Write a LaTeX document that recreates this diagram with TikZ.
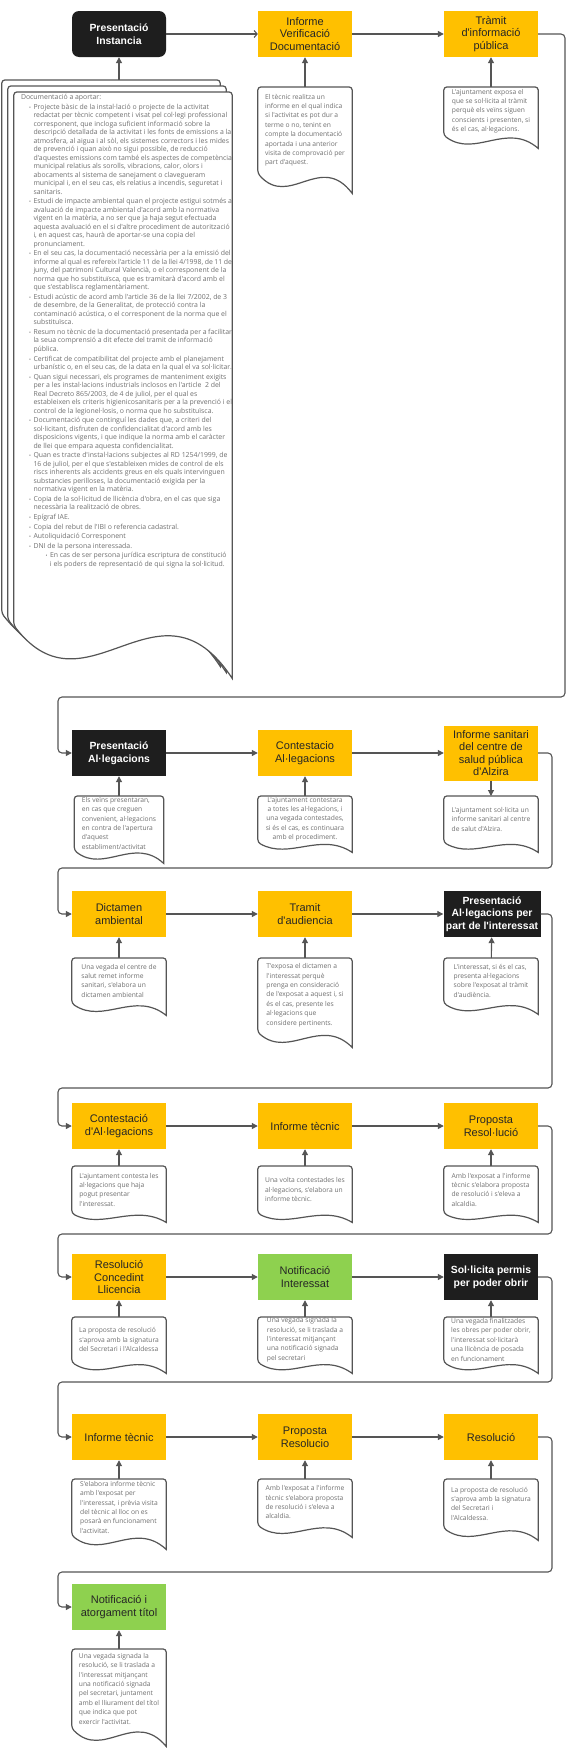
\documentclass[tikz,border=0pt]{standalone}
\usepackage{fontspec}
\newfontfamily\boxfont{Liberation Sans}[Ligatures=TeXOff]
\newfontfamily\docfont{Open Sans}[Ligatures=TeXOff]
\usetikzlibrary{arrows.meta, positioning, calc, backgrounds}
\definecolor{boxyellow}{HTML}{FFC000}
\definecolor{boxgreen}{HTML}{8ED14F}
\definecolor{boxblack}{HTML}{1E1E1E}
\definecolor{linegray}{HTML}{555555}
\definecolor{docgray}{HTML}{707070}
\tikzstyle{ybox} = [rectangle, fill=boxyellow, text=black!85, minimum width=94pt, minimum height=46pt, inner sep=1pt, align=center, font=\boxfont\fontsize{11}{12.6}\selectfont]
\tikzstyle{gbox} = [ybox, fill=boxgreen]
\tikzstyle{kbox} = [ybox, fill=boxblack, text=white, font=\boxfont\bfseries\fontsize{10.4}{12.6}\selectfont]
\tikzstyle{doc} = [rectangle, anchor=north, inner sep=0pt, minimum width=94pt, align=left, text=docgray, font=\docfont\fontsize{6.7}{9.4}\selectfont]
\tikzstyle{docpage} = [rectangle, anchor=north, inner sep=0pt, minimum width=218pt, minimum height=533pt]
\tikzstyle{docline} = [draw=linegray, line width=1.2pt, line join=miter]
\tikzstyle{line} = [draw=linegray, line width=1.1pt, rounded corners=4pt]
\tikzstyle{arrow} = [line, -{Triangle[length=6pt, width=6pt]}]
\tikzstyle{openarrow} = [line, -{Straight Barb[length=3pt, width=7pt]}]
\newcommand{\docwave}[3][]{%
	\path [docline, #1] ($(#2.south east)+(0,-#3)$) [rounded corners=3pt] -- (#2.north east) -- (#2.north west) -- (#2.south west) [sharp corners]
		.. controls ($(#2.south west)!0.333!(#2.south east)+(0,-1.78*#3)$) and ($(#2.south west)!0.667!(#2.south east)+(0,1.1*#3)$) .. ($(#2.south east)+(0,-#3)$) -- cycle;
}
\newcommand{\bitem}{\hangindent=12.5pt\hangafter=0\leavevmode\llap{{\fontsize{5}{5}\selectfont •}\hspace{2.5pt}}}
\newcommand{\bsub}{\hangindent=29pt\hangafter=0\leavevmode\llap{{\fontsize{5}{5}\selectfont •}\hspace{2.5pt}}}

\begin{document}
\begin{tikzpicture}[x=1pt, y=1pt]
			\useasboundingbox (0,0) rectangle (572,-1748);

			\node [kbox, rounded corners=7pt] (b11) at (119,-34) {Presentació\\Instancia};
			\node [ybox] (b12) at (305,-34) {Informe\\Verificació\\Documentació};
			\node [ybox] (b13) at (491,-34) {Tràmit\\d'informació\\pública};
			\node [kbox] (b21) at (119,-753) {Presentació\\Al·legacions};
			\node [ybox] (b22) at (305,-753) {Contestacio\\Al·legacions};
			\node [ybox, minimum height=55pt] (b23) at (491,-753) {Informe sanitari\\del centre de\\salud pública\\d'Alzira};
			\node [ybox] (b31) at (119,-914) {Dictamen\\ambiental};
			\node [ybox] (b32) at (305,-914) {Tramit\\d'audiencia};
			\node [kbox, minimum width=97pt] (b33) at (492,-914) {Presentació\\Al·legacions per\\part de l'interessat};
			\node [ybox] (b41) at (119,-1126) {Contestació\\d'Al·legacions};
			\node [ybox] (b42) at (305,-1126) {Informe tècnic};
			\node [ybox] (b43) at (491,-1126) {Proposta\\Resol·lució};
			\node [ybox] (b51) at (119,-1277) {Resolució\\Concedint\\Llicencia};
			\node [gbox] (b52) at (305,-1277) {Notificació\\Interessat};
			\node [kbox] (b53) at (491,-1277) {Sol·licita permis\\per poder obrir};
			\node [ybox] (b61) at (119,-1437) {Informe tècnic};
			\node [ybox] (b62) at (305,-1437) {Proposta\\Resolucio};
			\node [ybox] (b63) at (491,-1437) {Resolució};
			\node [gbox] (b71) at (119,-1607) {Notificació i\\atorgament títol};

			\node [docpage] (d11c) at (111,-80) {};
			\node [docpage] (d11b) at (117,-86) {};
			\node [docpage, text=docgray, font=\docfont\fontsize{6.9}{8.5}\selectfont] (d11) at (123,-92) {\begin{minipage}[t][533pt][t]{218pt}
				\setlength{\parindent}{0pt}\setlength{\parskip}{1.1pt}\setlength{\leftskip}{7pt}
				\vspace*{2pt}
				Documentació a aportar:\par
				\bitem Projecte bàsic de la instal·lació o projecte de la activitat\\redactat per tècnic competent i visat pel col·legi professional\\corresponent, que incloga suficient informació sobre la\\descripció detallada de la activitat i les fonts de emissions a la\\atmosfera, al aigua i al sòl, els sistemes correctors i les mides\\de prevenció i quan això no sigui possible, de reducció\\d'aquestes emissions com també els aspectes de competència\\municipal relatius als sorolls, vibracions, calor, olors i\\abocaments al sistema de sanejament o clavegueram\\municipal i, en el seu cas, els relatius a incendis, seguretat i\\sanitaris.\par
				\bitem Estudi de impacte ambiental quan el projecte estigui sotmés a\\avaluació de impacte ambiental d'acord amb la normativa\\vigent en la matèria, a no ser que ja haja segut efectuada\\aquesta avaluació en el si d'altre procediment de autorització\\i, en aquest cas, haurà de aportar-se una copia del\\pronunciament.\par
				\bitem En el seu cas, la documentació necessària per a la emissió del\\informe al qual es refereix l'article 11 de la llei 4/1998, de 11 de\\juny, del patrimoni Cultural Valencià, o el corresponent de la\\norma que ho substituïsca, que es tramitarà d'acord amb el\\que s'establisca reglamentàriament.\par
				\bitem Estudi acústic de acord amb l'article 36 de la llei 7/2002, de 3\\de desembre, de la Generalitat, de protecció contra la\\contaminació acústica, o el corresponent de la norma que el\\substituïsca.\par
				\bitem Resum no tècnic de la documentació presentada per a facilitar\\la seua comprensió a dit efecte del tramit de informació\\pública.\par
				\bitem Certificat de compatibilitat del projecte amb el planejament\\urbanístic o, en el seu cas, de la data en la qual el va sol·licitar.\par
				\bitem Quan sigui necessari, els programes de manteniment exigits\\per a les instal·lacions industrials inclosos en l'article\ \ 2 del\\Real Decreto 865/2003, de 4 de juliol, per el qual es\\estableixen els criteris higienicosanitaris per a la prevenció i el\\control de la legionel·losis, o norma que ho substituïsca.\par
				\bitem Documentació que continguí les dades que, a criteri del\\sol·licitant, disfruten de confidencialitat d'acord amb les\\disposicions vigents, i que indique la norma amb el caràcter\\de llei que empara aquesta confidencialitat.\par
				\bitem Quan es tracte d'instal·lacions subjectes al RD 1254/1999, de\\16 de juliol, per el que s'estableixen mides de control de els\\riscs inherents als accidents greus en els quals intervinguen\\substancies perilloses, la documentació exigida per la\\normativa vigent en la matèria.\par
				\bitem Copia de la sol·licitud de llicència d'obra, en el cas que siga\\necessària la realització de obres.\par
				\bitem Epígraf IAE.\par
				\bitem Copia del rebut de l'IBI o referencia cadastral.\par
				\bitem Autoliquidació Corresponent\par
				\bitem DNI de la persona interessada.\par
				\bsub En cas de ser persona jurídica escriptura de constitució\\i els poders de representació de qui signa la sol·licitud.\par
			\end{minipage}};
			\node [doc, minimum height=86pt] (d12) at (305,-87) {El tècnic realitza un\\informe en el qual indica\\si l'activitat es pot dur a\\terme o no, tenint en\\compte la documentació\\aportada i una anterior\\visita de comprovació per\\part d'aquest.};
			\node [doc, minimum height=48pt] (d13) at (491,-87) {L'ajuntament exposa el\\que se sol·licita al tràmit\\perquè els veïns siguen\\conscients i presenten, si\\és el cas, al·legacions.};
			\node [doc, minimum width=89pt, minimum height=54pt] (d21) at (119,-796) {Els veïns presentaran,\\en cas que creguen\\convenient, al·legacions\\en contra de l'apertura\\d'aquest\\establiment/activitat};
			\node [doc, align=center, minimum height=46pt] (d22) at (305,-796) {L'ajuntament contestara\\a totes les al·legacions, i\\una vegada contestades,\\si és el cas, es continuara\\amb el procediment.};
			\node [doc, minimum height=46pt] (d23) at (491,-796) {L'ajuntament sol·licita un\\informe sanitari al centre\\de salut d'Alzira.};
			\node [doc, minimum height=45pt] (d31) at (119,-958) {Una vegada el centre de\\salut remet informe\\sanitari, s'elabora un\\dictamen ambiental};
			\node [doc, minimum height=74pt] (d32) at (305,-958) {T'exposa el dictamen a\\l'interessat perquè\\prenga en consideració\\de l'exposat a aquest i, si\\és el cas, presente les\\al·legacions que\\considere pertinents.};
			\node [doc, minimum height=45pt] (d33) at (491,-958) {L'interessat, si és el cas,\\presenta al·legacions\\sobre l'exposat al tràmit\\d'audiència.};
			\node [doc, minimum height=47pt] (d41) at (119,-1166) {L'ajuntament contesta les\\al·legacions que haja\\pogut presentar\\l'interessat.};
			\node [doc, minimum height=47pt] (d42) at (305,-1166) {Una volta contestades les\\al·legacions, s'elabora un\\informe tècnic.};
			\node [doc, minimum height=47pt] (d43) at (491,-1166) {Amb l'exposat a l'informe\\tècnic s'elabora proposta\\de resolució i s'eleva a\\alcaldia.};
			\node [doc, minimum height=45pt] (d51) at (119,-1317) {La proposta de resolució\\s'aprova amb la signatura\\del Secretari i l'Alcaldessa};
			\node [doc, minimum height=45pt] (d52) at (305,-1317) {Una vegada signada la\\resolució, se li traslada a\\l'interessat mitjançant\\una notificació signada\\pel secretari};
			\node [doc, minimum height=45pt] (d53) at (491,-1317) {Una vegada finalitzades\\les obres per poder obrir,\\l'interessat sol·licitarà\\una llicència de posada\\en funcionament};
			\node [doc, minimum height=56pt] (d61) at (119,-1479) {S'elabora informe tècnic\\amb l'exposat per\\l'interessat, i prèvia visita\\del tècnic al lloc on es\\posarà en funcionament\\l'activitat.};
			\node [doc, minimum height=46pt] (d62) at (305,-1479) {Amb l'exposat a l'informe\\tècnic s'elabora proposta\\de resolució i s'eleva a\\alcaldia.};
			\node [doc, minimum height=49pt] (d63) at (491,-1479) {La proposta de resolució\\s'aprova amb la signatura\\del Secretari i\\l'Alcaldessa.};
			\node [doc, minimum height=79pt] (d71) at (119,-1649) {Una vegada signada la\\resolució, se li traslada a\\l'interessat mitjançant\\una notificació signada\\pel secretari, juntament\\amb el lliurament del títol\\que indica que pot\\exercir l'activitat.};

			\begin{pgfonlayer}{background}
				\fill [white] (0,0) rectangle (572,-1748);
				\docwave[fill=white]{d11c}{53}
				\docwave[fill=white]{d11b}{53}
				\docwave[fill=white]{d11}{53}
				\docwave{d12}{20}
				\docwave{d13}{13}
				\docwave{d21}{13}
				\docwave{d22}{10}
				\docwave{d23}{10}
				\docwave{d31}{12}
				\docwave{d32}{15}
				\docwave{d33}{11}
				\docwave{d41}{9}
				\docwave{d42}{9}
				\docwave{d43}{9}
				\docwave{d51}{11}
				\docwave{d52}{11}
				\docwave{d53}{11}
				\docwave{d61}{14}
				\docwave{d62}{12}
				\docwave{d63}{12}
				\docwave{d71}{18}
			\end{pgfonlayer}

			\path [openarrow] (b11) -- (b12);
			\path [arrow] (b12) -- (b13);
			\path [arrow] (b13.east) -| (565,-697) -- (58,-697) |- (b21.west);
			\path [arrow] (b21) -- (b22);
			\path [arrow] (b22) -- (b23);
			\path [arrow] (b23.east) -| (552,-868) -- (58,-868) |- (b31.west);
			\path [arrow] (b31) -- (b32);
			\path [arrow] (b32) -- (b33);
			\path [arrow] (b33.east) -| (552,-1088) -- (58,-1088) |- (b41.west);
			\path [arrow] (b41) -- (b42);
			\path [arrow] (b42) -- (b43);
			\path [arrow] (b43.east) -| (552,-1234) -- (58,-1234) |- (b51.west);
			\path [arrow] (b51) -- (b52);
			\path [arrow] (b52) -- (b53);
			\path [arrow] (b53.east) -| (552,-1382) -- (58,-1382) |- (b61.west);
			\path [arrow] (b61) -- (b62);
			\path [arrow] (b62) -- (b63);
			\path [arrow] (b63.east) -| (552,-1572) -- (58,-1572) |- (b71.west);

			\path [arrow] (b11 |- d11c.north) -- (b11);
			\path [arrow] (d12) -- (b12);
			\path [arrow] (d13) -- (b13);
			\path [arrow] (d21) -- (b21);
			\path [arrow] (d22) -- (b22);
			\path [arrow] (b23) -- (d23);
			\path [arrow] (d31) -- (b31);
			\path [arrow] (d32) -- (b32);
			\path [arrow] (d33) -- (b33);
			\path [arrow] (d41) -- (b41);
			\path [arrow] (d42) -- (b42);
			\path [arrow] (d43) -- (b43);
			\path [arrow] (d51) -- (b51);
			\path [arrow] (d52) -- (b52);
			\path [arrow] (d53) -- (b53);
			\path [arrow] (d61) -- (b61);
			\path [arrow] (d62) -- (b62);
			\path [arrow] (d63) -- (b63);
			\path [arrow] (d71) -- (b71);
\end{tikzpicture}
\end{document}
